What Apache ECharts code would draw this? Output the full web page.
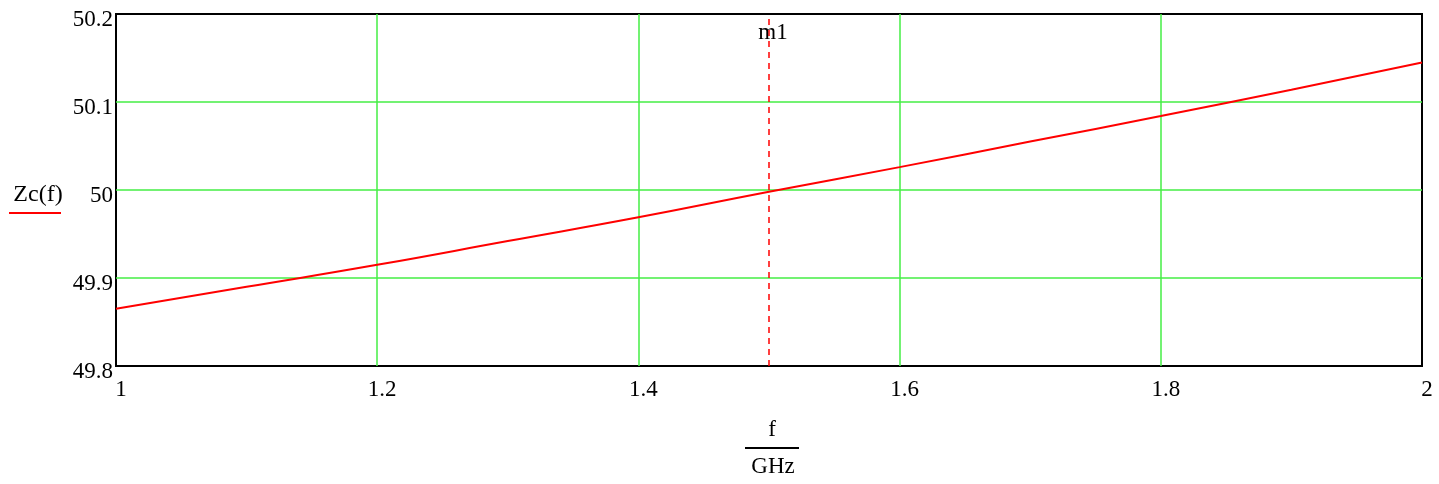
<!DOCTYPE html>
<html>
<head>
<meta charset="utf-8">
<script src="https://cdn.jsdelivr.net/npm/echarts@6/dist/echarts.min.js"></script>
<style>
html,body{margin:0;padding:0;background:#fff;}
#chart{width:1439px;height:484px;}
</style>
</head>
<body>
<div id="chart"></div>
<script>
// Data
const freqGHz = [1.0, 1.1, 1.2, 1.3, 1.4, 1.5, 1.6, 1.7, 1.8, 1.9, 2.0];
const zcValues = [49.865, 49.890, 49.915, 49.942, 49.969, 49.998, 50.026, 50.055, 50.084, 50.114, 50.145];
const markerF = 1.5;
const markerLabel = 'm1';
const seriesName = 'Zc(f)';
const xNameTop = 'f';
const xNameBottom = 'GHz';

const FONT = '"Liberation Serif", "DejaVu Serif", serif';
const FS = 23;
const chart = echarts.init(document.getElementById('chart'), null, {renderer: 'canvas'});

const fmt = v => String(Math.round(v * 1000) / 1000);

chart.setOption({
  animation: false,
  backgroundColor: '#ffffff',
  grid: {left: 116, right: 17, top: 14, bottom: 118, show: true, borderColor: '#000', borderWidth: 2, backgroundColor: 'transparent'},
  xAxis: {
    type: 'value', min: 1, max: 2, interval: 0.2,
    axisLine: {show: false},
    axisTick: {show: false},
    axisLabel: {fontFamily: FONT, fontSize: FS, color: '#000', margin: 12, padding: [0, 0, 0, 10], formatter: fmt},
    splitLine: {show: true, showMinLine: false, showMaxLine: false, lineStyle: {color: '#44ee44', width: 1.5}}
  },
  yAxis: {
    type: 'value', min: 49.8, max: 50.2, interval: 0.1,
    axisLine: {show: false},
    axisTick: {show: false},
    axisLabel: {
      color: '#000', margin: 3,
      formatter: v => '{a|' + fmt(v) + '}',
      rich: {a: {fontFamily: FONT, fontSize: FS, color: '#000', padding: [12, 0, 0, 0]}}
    },
    splitLine: {show: true, showMinLine: false, showMaxLine: false, lineStyle: {color: '#44ee44', width: 1.5}}
  },
  series: [{
    name: seriesName,
    type: 'line',
    data: freqGHz.map((f, i) => [f, zcValues[i]]),
    smooth: true,
    showSymbol: false,
    lineStyle: {color: '#ff0000', width: 2},
    z: 5,
    markLine: {
      silent: true,
      symbol: ['none', 'none'],
      label: {show: false},
      lineStyle: {color: '#ff0000', type: [6, 5], width: 1.5, opacity: 1},
      emphasis: {disabled: true},
      data: [{xAxis: markerF}]
    },
    markPoint: {
      symbol: 'rect',
      symbolSize: 1,
      itemStyle: {color: 'rgba(0,0,0,0)'},
      label: {show: true, position: 'inside', formatter: markerLabel, fontFamily: FONT, fontSize: FS, color: '#000', offset: [4, 0]},
      data: [{coord: [markerF, 50.178]}]
    }
  }],
  graphic: [
    {type: 'text', x: 38, y: 195, style: {text: seriesName, font: '24px ' + FONT, fill: '#000', align: 'center', verticalAlign: 'middle'}},
    {type: 'line', shape: {x1: 9, y1: 213, x2: 61, y2: 213}, style: {stroke: '#ff0000', lineWidth: 2}},
    {type: 'text', x: 772, y: 430, style: {text: xNameTop, font: FS + 'px ' + FONT, fill: '#000', align: 'center', verticalAlign: 'middle'}},
    {type: 'line', shape: {x1: 745, y1: 448, x2: 799, y2: 448}, style: {stroke: '#000', lineWidth: 2}},
    {type: 'text', x: 773, y: 467, style: {text: xNameBottom, font: FS + 'px ' + FONT, fill: '#000', align: 'center', verticalAlign: 'middle'}}
  ]
});
</script>
</body>
</html>
